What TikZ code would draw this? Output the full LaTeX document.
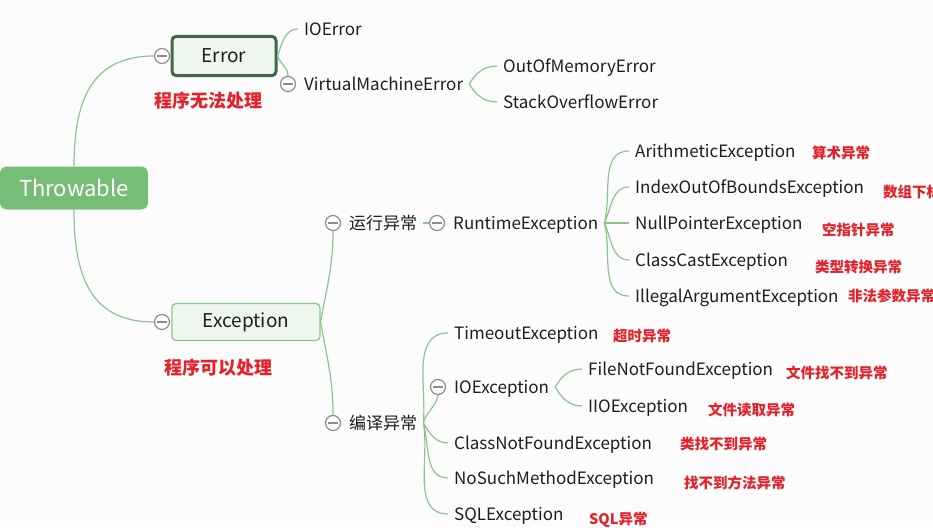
\documentclass[tikz,border=0pt]{standalone}
\usepackage{fontspec}
\setmainfont{Noto Sans CJK SC}
\usetikzlibrary{
	positioning,   %定位
	calc,          %计算
	arrows.meta    %箭头
}
\definecolor{linegreen}{RGB}{138,198,140}
\definecolor{rootgreen}{RGB}{118,190,120}
\definecolor{darkgreen}{RGB}{62,104,70}
\definecolor{palegreen}{RGB}{238,247,238}
\definecolor{notered}{RGB}{230,32,40}
\definecolor{foldgray}{RGB}{140,140,140}
\definecolor{inkblack}{RGB}{30,30,30}
\definecolor{paper}{RGB}{252,252,252}
\tikzstyle{link}=[draw=linegreen,line width=1.2pt]
\tikzstyle{root}=[rectangle,
rounded corners=7pt,
fill=rootgreen,
text=white,
inner sep=0pt,
minimum width=148pt,
minimum height=43pt,
font=\fontsize{22}{26}\selectfont]
\tikzset{
	topic/.style={rectangle,rounded corners=4pt,fill=palegreen,
		text=inkblack,inner sep=0pt,font=\fontsize{19}{22}\selectfont},
	leaf/.style={anchor=west,inner xsep=6pt,inner ysep=0pt,text=inkblack,
		font=\fontsize{17}{20}\selectfont,text height=13pt,text depth=0pt},
	note/.style={anchor=west,inner sep=0pt,text=notered,
		font=\bfseries\fontsize{14.5}{17}\selectfont},
	bignote/.style={inner sep=0pt,text=notered,
		font=\bfseries\fontsize{18}{21}\selectfont},
	fold/.style={circle,draw=foldgray,fill=white,line width=1.2pt,
		minimum size=15pt,inner sep=0pt,
		path picture={\draw[foldgray,line width=1.2pt]
			([xshift=-5pt]path picture bounding box.center) --
			([xshift=5pt]path picture bounding box.center);}}
}

\begin{document}
\begin{tikzpicture}[x=1pt,y=-1pt]
\useasboundingbox (0,0) rectangle (933,527);
\fill[paper] (0,0) rectangle (933,527);
% 主干
\node[root] (tw) at (74,188) {Throwable};
\node[topic,draw=darkgreen,line width=3pt,minimum width=104pt,minimum height=39pt] (er) at (224,56) {Error};
\node[topic,draw=linegreen,line width=1.2pt,minimum width=148pt,minimum height=37pt] (ex) at (246,322) {Exception};
\node[fold] (cer) at (162,56) {};
\node[fold] (cex) at (162,322) {};
\node[bignote] (n1) at (208,101) {程序无法处理};
\node[bignote] (n2) at (218,368) {程序可以处理};
% Error 分支
\node[leaf] (ioe) at (298,29) {IOError};
\node[fold] (cvm) at (288,84) {};
\node[leaf] (vm) at (298,84) {VirtualMachineError};
\node[leaf] (oom) at (497,66) {OutOfMemoryError};
\node[leaf] (soe) at (497,102) {StackOverflowError};
% 运行异常
\node[fold] (cyx) at (333,223) {};
\node[leaf] (yx) at (343,223) {运行异常};
\node[fold] (crt) at (437,223) {};
\node[leaf] (rt) at (447,223) {RuntimeException};
\node[leaf] (ae) at (629,151) {ArithmeticException};
\node[leaf] (iob) at (629,187) {IndexOutOfBoundsException};
\node[leaf] (np) at (629,223) {NullPointerException};
\node[leaf] (cc) at (629,260) {ClassCastException};
\node[leaf] (ia) at (629,296) {IllegalArgumentException};
% 编译异常
\node[fold] (cby) at (333,423) {};
\node[leaf] (by) at (343,423) {编译异常};
\node[leaf] (to) at (448,333) {TimeoutException};
\node[fold] (cio) at (438,387) {};
\node[leaf] (io) at (448,387) {IOException};
\node[leaf] (fnf) at (582,369) {FileNotFoundException};
\node[leaf] (iio) at (582,406) {IIOException};
\node[leaf] (cnf) at (448,443) {ClassNotFoundException};
\node[leaf] (nsm) at (448,478) {NoSuchMethodException};
\node[leaf] (sql) at (448,514) {SQLException};
% 红色注释
\node[note] (m1) at (812,153) {算术异常};
\node[note] (m2) at (883,192) {数组下标};
\node[note] (m3) at (822,230) {空指针异常};
\node[note] (m4) at (815,267) {类型转换异常};
\node[note] (m5) at (848,296) {非法参数异常};
\node[note] (m6) at (613,336) {超时异常};
\node[note] (m7) at (786,373) {文件找不到异常};
\node[note] (m8) at (708,410) {文件读取异常};
\node[note] (m9) at (680,444) {类找不到异常};
\node[note] (m10) at (684,483) {找不到方法异常};
\node[note] (m11) at (589,520) {SQL异常};
% 连线
\draw[link] (tw.north) to[out=90,in=180,looseness=1.2] (cer.west);
\draw[link] (tw.south) to[out=-90,in=180,looseness=1.2] (cex.west);
\draw[link] (er.east) to[out=70,in=180] (ioe.west);
\draw[link] (er.east) to[out=-70,in=90] (cvm.north);
\draw[link] (vm.east) to[out=60,in=180] (oom.west);
\draw[link] (vm.east) to[out=-60,in=180] (soe.west);
\draw[link] (ex.east) to[out=80,in=-90] (cyx.south);
\draw[link] (ex.east) to[out=-80,in=90] (cby.north);
\draw[link] (yx.east) -- (crt.west);
\foreach \c/\a in {ae/75,iob/65,np/0,cc/-65,ia/-75}
	\draw[link] (rt.east) to[out=\a,in=180] (\c.west);
\foreach \c/\a in {to/85,cnf/-60,nsm/-75,sql/-80}
	\draw[link] (by.east) to[out=\a,in=180] (\c.west);
\draw[link] (by.east) to[out=75,in=-100] (cio.south);
\draw[link] (io.east) to[out=60,in=180] (fnf.west);
\draw[link] (io.east) to[out=-60,in=180] (iio.west);
\end{tikzpicture}
\end{document}
